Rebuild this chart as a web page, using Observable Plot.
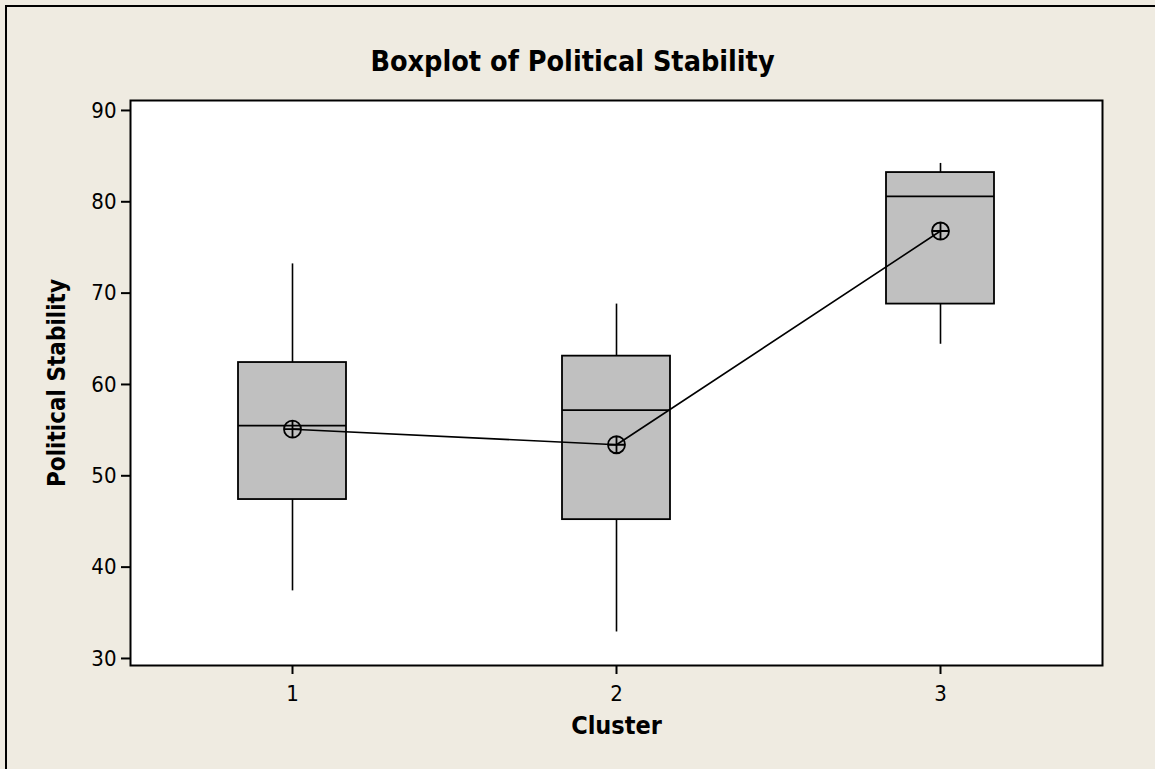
<!DOCTYPE html>
<html>
<head>
<meta charset="utf-8">
<script src="https://cdn.jsdelivr.net/npm/d3@7"></script>
<script src="https://cdn.jsdelivr.net/npm/@observablehq/plot@0.6"></script>
<style>
  html, body { margin: 0; padding: 0; background: #EFEBE1; }
  #wrap { position: relative; width: 1155px; height: 769px; overflow: hidden; background: #EFEBE1; }
  #border { position: absolute; left: 5px; top: 5px; width: 1200px; height: 800px; border-top: 2px solid #000; border-left: 2px solid #000; }
  #title { position: absolute; left: -5px; width: 1155px; top: 44px; text-align: center; line-height: 36px;
    font-family: "DejaVu Sans Condensed", "DejaVu Sans", sans-serif; font-stretch: condensed;
    font-weight: bold; font-size: 28.5px; color: #000; }
  #chart { position: absolute; left: 0; top: 0; }
  #chart svg { font-family: "DejaVu Sans Condensed", "DejaVu Sans", sans-serif; font-stretch: condensed; }
  #chart svg g[aria-label$="tick label"] { font-size: 22px; }
</style>
</head>
<body>
<div id="wrap">
  <div id="border"></div>
  <div id="title">Boxplot of Political Stability</div>
  <div id="chart"></div>
</div>
<script>
const clusters = [1, 2, 3];
const whiskerLow = [37.4, 32.9, 64.4];
const q1 = [47.4, 45.2, 68.8];
const median = [55.5, 57.2, 80.6];
const q3 = [62.4, 63.1, 83.2];
const whiskerHigh = [73.2, 68.8, 84.2];
const means = [55.1, 53.4, 76.8];
const yTicks = [30, 40, 50, 60, 70, 80, 90];

const rows = clusters.map((c, i) => ({
  cluster: c, lo: whiskerLow[i], q1: q1[i], med: median[i], q3: q3[i], hi: whiskerHigh[i], mean: means[i]
}));

const circlePlus = {
  draw(context, size) {
    const r = Math.sqrt(size / Math.PI);
    context.moveTo(r, 0);
    context.arc(0, 0, r, 0, 2 * Math.PI);
    context.moveTo(-r, 0); context.lineTo(r, 0);
    context.moveTo(0, -r); context.lineTo(0, r);
  }
};

const plot = Plot.plot({
  width: 1155,
  height: 769,
  marginLeft: 130,
  marginRight: 53,
  marginTop: 100,
  marginBottom: 104,
  style: { background: "transparent", fontSize: "22px", color: "#000", overflow: "visible" },
  x: { type: "band", domain: clusters, paddingInner: 0.666, paddingOuter: 0.333, label: null },
  y: { domain: [29.23, 91.09], label: null },
  marks: [
    Plot.frame({ fill: "white", stroke: null }),
    Plot.ruleX(rows, { x: "cluster", y1: "lo", y2: "q1", stroke: "#000", strokeWidth: 1.6 }),
    Plot.ruleX(rows, { x: "cluster", y1: "q3", y2: "hi", stroke: "#000", strokeWidth: 1.6 }),
    Plot.barY(rows, { x: "cluster", y1: "q1", y2: "q3", fill: "#C0C0C0", stroke: "#000", strokeWidth: 1.8 }),
    Plot.tickY(rows, { x: "cluster", y: "med", stroke: "#000", strokeWidth: 1.8 }),
    Plot.line(rows, { x: "cluster", y: "mean", stroke: "#000", strokeWidth: 1.6 }),
    Plot.dot(rows, { x: "cluster", y: "mean", r: 8.5, symbol: circlePlus, stroke: "#000", strokeWidth: 1.8, fill: "none" }),
    Plot.frame({ stroke: "#000", strokeWidth: 2 }),
    Plot.axisX({ tickSize: 9, tickPadding: 11, strokeWidth: 2, label: null }),
    Plot.axisY({ ticks: yTicks, tickSize: 9, tickPadding: 5, strokeWidth: 2, label: null }),
    Plot.text(["Cluster"], { frameAnchor: "bottom", dy: 51, lineAnchor: "top", fontWeight: "bold", fontSize: 25, text: d => d }),
    Plot.text(["Political Stability"], { frameAnchor: "left", dx: -73, rotate: -90, textAnchor: "middle", lineAnchor: "middle", fontWeight: "bold", fontSize: 24, text: d => d })
  ]
});
document.getElementById("chart").appendChild(plot);
</script>
</body>
</html>
